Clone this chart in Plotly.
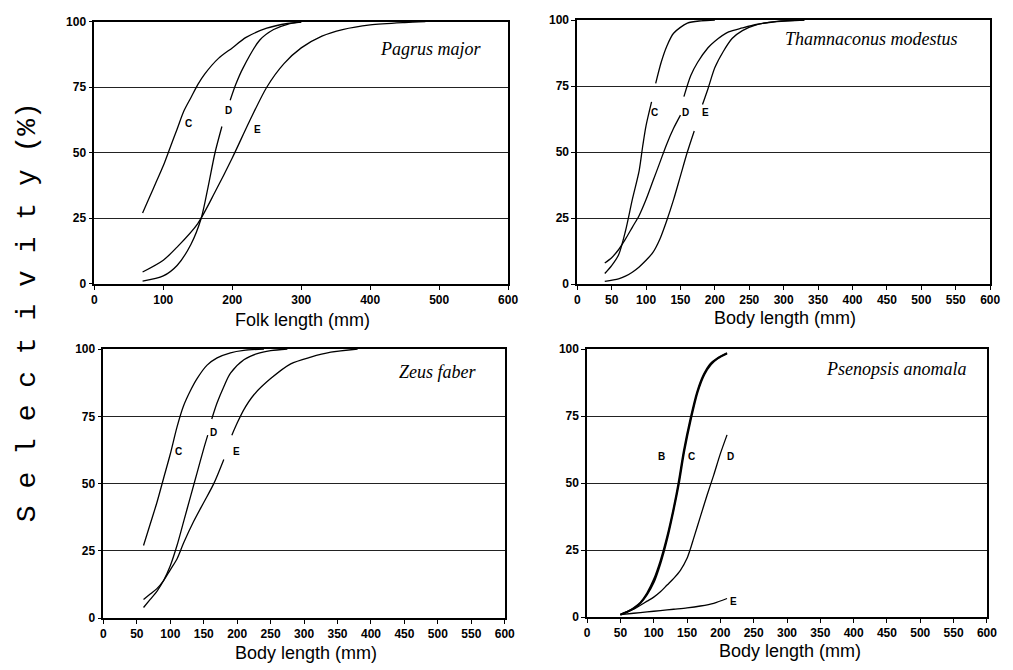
import plotly.graph_objects as go

W, H = 1013, 670

# ---------------- data ----------------
# Panel 1: Pagrus major (Folk length)
p1_C_x = [70, 80, 90, 100, 110, 120, 130, 140, 150, 160, 180, 200, 220, 250, 280, 300]
p1_C_y = [27, 33, 39, 45, 52, 59, 66, 71, 76, 80, 86, 90, 94, 97.5, 99.3, 99.8]
p1_D_x = [70, 100, 120, 140, 155, 165, 175, 185, None, 197, 205, 215, 240, 260, 280, 300]
p1_D_y = [1, 3, 7, 15, 25, 37, 50, 60, None, 70, 76, 82, 93, 97, 99, 99.8]
p1_E_x = [70, 100, 120, 150, 175, 200, 225, 250, 275, 300, 330, 360, 400, 450, 480]
p1_E_y = [4.5, 9, 14, 23, 35, 48, 62, 75, 84, 90, 94.5, 97, 98.8, 99.7, 100]

# Panel 2: Thamnaconus modestus
p2_C_x = [40, 50, 60, 70, 80, 90, 95, 100, 108, None, 114, 122, 130, 140, 160, 180, 200]
p2_C_y = [4, 7, 11, 20, 32, 43, 52, 60, 69, None, 76, 84, 90, 95, 98.8, 99.7, 100]
p2_D_x = [40, 50, 60, 70, 80, 90, 100, 110, 120, 130, 140, 150, None, 155, 165, 175, 190, 200, 220, 240, 260, 290, 330]
p2_D_y = [8, 10, 13, 17, 21.5, 26, 32, 39, 46, 53, 59, 64, None, 71, 79, 84, 89.5, 92, 95.5, 97, 98.3, 99.4, 100]
p2_E_x = [40, 60, 70, 80, 90, 100, 110, 120, 130, 140, 150, 160, 170, None, 182, 190, 200, 212, 225, 240, 260, 290, 330]
p2_E_y = [1, 2, 3, 4.5, 6.5, 9, 12, 17, 24, 32, 41, 50, 58, None, 68, 74, 82, 88, 93, 96, 98.2, 99.5, 100]

# Panel 3: Zeus faber
p3_C_x = [60, 70, 80, 90, 100, 110, 120, 130, 140, 155, 170, 190, 210, 240]
p3_C_y = [27, 35, 43, 52, 61, 71, 79, 84.5, 89, 94, 96.7, 98.6, 99.5, 100]
p3_D_x = [60, 70, 80, 90, 100, 110, 120, 130, 140, 150, 156, None, 162, 170, 180, 190, 210, 230, 250, 275]
p3_D_y = [4, 7, 10, 14, 19.5, 27, 36, 45, 54, 63, 68, None, 74, 80, 86, 91, 96, 98.3, 99.4, 100]
p3_E_x = [60, 70, 80, 90, 100, 110, 120, 135, 150, 165, 180, None, 192, 200, 210, 225, 250, 280, 310, 340, 380]
p3_E_y = [7, 9, 11, 14, 18, 22, 28, 36, 43, 50, 59, None, 68, 72.5, 77.5, 83, 89, 94.5, 97, 98.8, 100]

# Panel 4: Psenopsis anomala
p4_B_x = [50, 60, 70, 80, 90, 100, 110, 120, 130, 137, 145, 155, 165, 175, 185, 195, 210]
p4_B_y = [1, 2, 3.5, 5.5, 9, 14, 21, 30, 41, 50, 62, 74, 84, 90.5, 94.5, 96.5, 98.5]
p4_C_x = [50, 60, 70, 80, 90, 100, 110, 120, 130, 138, 146, 156, 166, 176, 186, 196, 210]
p4_C_y = [1, 2, 3.3, 5.3, 8.5, 13, 20, 29, 40, 50, 62, 74, 84, 90.5, 94.3, 96.5, 98.3]
p4_D_x = [50, 60, 70, 80, 90, 100, 110, 120, 130, 140, 150, 155, 160, 170, 180, 190, 200, 210]
p4_D_y = [1, 2, 3, 4.5, 6, 7.5, 9.5, 12, 14.5, 17.5, 22, 25.5, 29.5, 37.5, 45.5, 53, 61, 68]
p4_E_x = [50, 70, 90, 110, 130, 150, 170, 190, 210]
p4_E_y = [1, 1.5, 2, 2.5, 3, 3.5, 4.2, 5.2, 7]

species = ["Pagrus major", "Thamnaconus modestus", "Zeus faber", "Psenopsis anomala"]
x_titles = ["Folk length (mm)", "Body length (mm)", "Body length (mm)", "Body length (mm)"]
x_dticks = [100, 50, 50, 50]
y_ticks = [0, 25, 50, 75, 100]
y_title = "S e l e c t i v i t y (%)"

panels = [
    [(p1_C_x, p1_C_y), (p1_D_x, p1_D_y), (p1_E_x, p1_E_y)],
    [(p2_C_x, p2_C_y), (p2_D_x, p2_D_y), (p2_E_x, p2_E_y)],
    [(p3_C_x, p3_C_y), (p3_D_x, p3_D_y), (p3_E_x, p3_E_y)],
    [(p4_B_x, p4_B_y), (p4_C_x, p4_C_y), (p4_D_x, p4_D_y), (p4_E_x, p4_E_y)],
]

curve_labels = [
    [("C", 137, 61), ("D", 195, 66), ("E", 237, 59)],
    [("C", 112, 65), ("D", 157, 65), ("E", 186, 65)],
    [("C", 113, 62), ("D", 165, 69), ("E", 199, 62)],
    [("B", 111, 60), ("C", 156, 60), ("D", 215, 60), ("E", 220, 6)],
]
title_pos = [(488, 89.5), (428, 93), (499, 91.3), (464, 92.5)]

# ---------------- layout geometry (pixels) ----------------
boxes = [  # x0, x1, ytop, ybottom
    (92.5, 511.7, 15, 282.7),
    (581.7, 1000, 13.3, 283),
    (101.7, 508.3, 349.3, 624.3),
    (591.7, 996.7, 349.3, 623.3),
]
xtitle_pos = [(303, 320), (792, 318), (307, 660), (797, 658)]

fig = go.Figure()
layout = dict(
    width=W, height=H, margin=dict(l=0, r=0, t=0, b=0),
    paper_bgcolor="white", plot_bgcolor="white", showlegend=False,
    font=dict(family="Liberation Sans, Arial", color="black"),
)
annotations = []

for i, (box, series) in enumerate(zip(boxes, panels)):
    n = "" if i == 0 else str(i + 1)
    x0, x1, yt, yb = box
    for j, (xs, ys) in enumerate(series):
        w = 1.8 if (i == 3 and j < 2) else 1.3
        fig.add_trace(go.Scatter(
            x=xs, y=ys, mode="lines", xaxis="x" + n, yaxis="y" + n,
            line=dict(color="black", width=w, shape="spline", smoothing=0.8),
            connectgaps=False, hoverinfo="skip"))
    layout["xaxis" + n] = dict(
        domain=[x0 / W, x1 / W], anchor="y" + n, range=[0, 600],
        tickmode="linear", tick0=0, dtick=x_dticks[i],
        showgrid=False, zeroline=False, showline=True, linecolor="black",
        linewidth=1.6, mirror=True, ticks="outside", ticklen=4, tickwidth=1.2,
        tickcolor="black",
        tickfont=dict(family="Liberation Sans, Arial", size=12, color="black", weight="bold"),
    )
    layout["yaxis" + n] = dict(
        domain=[1 - yb / H, 1 - yt / H], anchor="x" + n, range=[0, 100],
        tickvals=y_ticks, showgrid=True, gridcolor="#222", gridwidth=1.1,
        zeroline=False, showline=True, linecolor="black", linewidth=1.6,
        mirror=True, ticks="outside", ticklen=4, tickwidth=1.2, tickcolor="black",
        tickfont=dict(family="Liberation Sans, Arial", size=12, color="black", weight="bold"),
    )
    for (t, lx, ly) in curve_labels[i]:
        annotations.append(dict(
            x=lx, y=ly, xref="x" + n, yref="y" + n, text=t, showarrow=False,
            xanchor="center", yanchor="middle",
            font=dict(family="Liberation Sans, Arial", size=10, color="black", weight="bold")))
    tx, ty = title_pos[i]
    annotations.append(dict(
        x=tx, y=ty, xref="x" + n, yref="y" + n, text="<i>" + species[i] + "</i>",
        showarrow=False, xanchor="center", yanchor="middle",
        font=dict(family="Liberation Serif, Times New Roman", size=18, color="black")))
    px, py = xtitle_pos[i]
    annotations.append(dict(
        x=px / W, y=1 - py / H, xref="paper", yref="paper", text=x_titles[i],
        showarrow=False, xanchor="center", yanchor="middle",
        font=dict(family="Liberation Sans, Arial", size=18, color="black")))

annotations.append(dict(
    x=25 / W, y=1 - 312 / H, xref="paper", yref="paper", text=y_title,
    textangle=-90, showarrow=False, xanchor="center", yanchor="middle",
    font=dict(family="Liberation Mono, Courier New", size=28, color="black")))

layout["annotations"] = annotations
fig.update_layout(**layout)
fig.write_html("out.html")
